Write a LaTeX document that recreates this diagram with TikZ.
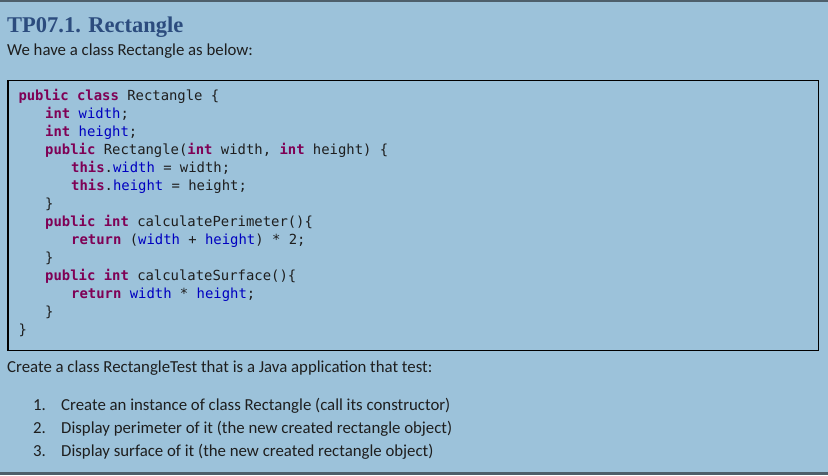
\documentclass[tikz,border=0pt]{standalone}
\usepackage{fontspec}
\setmainfont{Carlito}
\newfontfamily\titlefont{Liberation Serif}
\newfontfamily\codefont{DejaVu Sans Mono}
\definecolor{bgc}{HTML}{9CC2DA}
\definecolor{borderc}{HTML}{4E5F6B}
\definecolor{titlec}{HTML}{2C4C7E}
\definecolor{kwc}{HTML}{7F0055}
\definecolor{fldc}{HTML}{0000C0}
\definecolor{txtc}{HTML}{1E1E1E}
\newcommand{\kw}[1]{{\bfseries\color{kwc}#1}}
\newcommand{\fld}[1]{{\color{fldc}#1}}
\begin{document}
\begin{tikzpicture}[x=1pt,y=-1pt,
  txt/.style={anchor=base west,inner sep=0pt,text=txtc,font=\fontsize{16.8}{20}\selectfont},
  codeline/.style={anchor=base west,inner sep=0pt,text=txtc,font=\codefont\fontsize{13.9}{16}\selectfont},
  titletxt/.style={anchor=base west,inner sep=0pt,text=titlec,font=\titlefont\bfseries\fontsize{22.5}{26}\selectfont}]
\useasboundingbox (0,0) rectangle (828,475);
\fill[bgc] (0,0) rectangle (828,475);
\fill[borderc] (0,0) rectangle (828,1.5);
\fill[borderc] (0,471.5) rectangle (828,475);
% code box
\draw[line width=1.3pt,black] (8,80.5) rectangle (818.5,350.5);
% title and intro
\node[titletxt] (title) at (7,32) {TP07.1. Rectangle};
\node[txt] (intro) at (7,55) {We have a class Rectangle as below:};
% code
\node[codeline] (c1) at (18.3,100) {\kw{public} \kw{class} Rectangle \{};
\node[codeline] (c2) at (45,118) {\kw{int} \fld{width};};
\node[codeline] (c3) at (45,136) {\kw{int} \fld{height};};
\node[codeline] (c4) at (45,154) {\kw{public} Rectangle(\kw{int} width, \kw{int} height) \{};
\node[codeline] (c5) at (71,172) {\kw{this}.\fld{width} = width;};
\node[codeline] (c6) at (71,190) {\kw{this}.\fld{height} = height;};
\node[codeline] (c7) at (45,208) {\}};
\node[codeline] (c8) at (45,226) {\kw{public} \kw{int} calculatePerimeter()\{};
\node[codeline] (c9) at (71,244) {\kw{return} (\fld{width} + \fld{height}) * 2;};
\node[codeline] (c10) at (45,262) {\}};
\node[codeline] (c11) at (45,280) {\kw{public} \kw{int} calculateSurface()\{};
\node[codeline] (c12) at (71,298) {\kw{return} \fld{width} * \fld{height};};
\node[codeline] (c13) at (45,316) {\}};
\node[codeline] (c14) at (18.3,334) {\}};
% task
\node[txt] (task) at (7,372) {Create a class RectangleTest that is a Java application that test:};
\node[txt] (n1) at (33,410) {1.};
\node[txt] (i1) at (61,410) {Create an instance of class Rectangle (call its constructor)};
\node[txt] (n2) at (33,433.3) {2.};
\node[txt] (i2) at (61,433.3) {Display perimeter of it (the new created rectangle object)};
\node[txt] (n3) at (33,456.6) {3.};
\node[txt] (i3) at (61,456.6) {Display surface of it (the new created rectangle object)};
\end{tikzpicture}
\end{document}
